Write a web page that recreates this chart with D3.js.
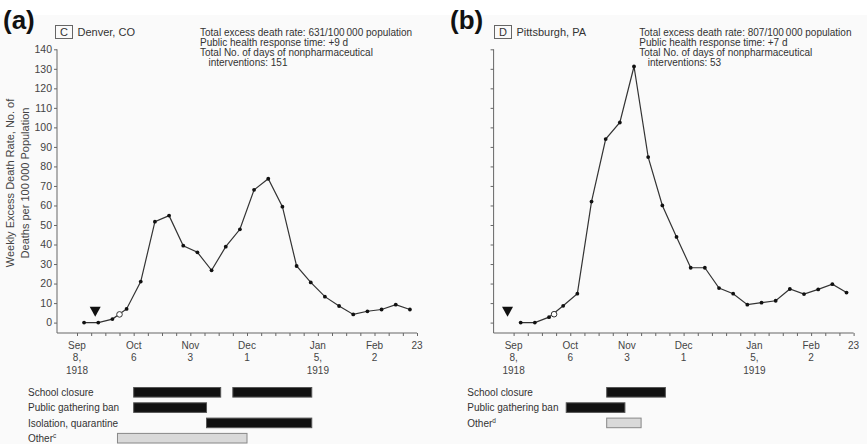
<!DOCTYPE html>
<html>
<head>
<meta charset="utf-8">
<script src="https://d3js.org/d3.v7.min.js"></script>
<style>
  body { margin: 0; background: #fff; }
  text { font-family: "Liberation Sans", Arial, Helvetica, sans-serif; }
</style>
</head>
<body>
<div id="chart"></div>
<script>
/**
 * Weekly excess death rate, Denver and Pittsburgh, 1918-1919
 */
var parseDate = d3.utcParse("%Y-%m-%d");

// first and last week of the axis
var firstWeek = "1918-09-08";
var lastWeek = "1919-02-23";

// weekly excess death rate per 100 000 (one value per week, Sep 8 - Feb 23)
var denverRate = [0, 0, 1.8, 7, 21, 51.7, 54.8, 39.4, 36, 26.8, 38.9, 47.8,
    68, 73.7, 59.4, 29, 20.6, 13.3, 8.5, 4.2, 5.8, 6.7, 9.2, 6.7];
var pittsburghRate = [0, 0, 2.8, 8.6, 14.8, 62, 94, 102.5, 131.2, 84.8, 60, 43.9,
    28.1, 28.1, 17.7, 14.8, 9.2, 10.2, 11.2, 17.2, 14.6, 17, 19.7, 15.4];

// open circle and triangle markers
var denverCircle = { date: "1918-09-29", value: 4.2 };
var pittsburghCircle = { date: "1918-09-28", value: 4.3 };
var denverTriangle = "1918-09-17";
var pittsburghTriangle = "1918-09-05";

// y ticks
var yTicks = [0, 10, 20, 30, 40, 50, 60, 70, 80, 90, 100, 110, 120, 130, 140];

// labelled x ticks
var xTickDates = ["1918-09-08", "1918-10-06", "1918-11-03", "1918-12-01", "1919-01-05", "1919-02-02", "1919-02-23"];
var xTickLabels = [["Sep", "8,", "1918"], ["Oct", "6"], ["Nov", "3"], ["Dec", "1"], ["Jan", "5,", "1919"], ["Feb", "2"], ["23"]];

// nonpharmaceutical interventions
var denverRows = ["School closure", "Public gathering ban", "Isolation, quarantine", "Other"];
var denverBars = [
    { row: 0, start: "1918-10-06", end: "1918-11-18" },
    { row: 0, start: "1918-11-24", end: "1919-01-02" },
    { row: 1, start: "1918-10-06", end: "1918-11-11" },
    { row: 2, start: "1918-11-11", end: "1919-01-02" },
    { row: 3, start: "1918-09-28", end: "1918-12-01", other: true }
];
var pittsburghRows = ["School closure", "Public gathering ban", "Other"];
var pittsburghBars = [
    { row: 0, start: "1918-10-24", end: "1918-11-22" },
    { row: 1, start: "1918-10-04", end: "1918-11-02" },
    { row: 2, start: "1918-10-24", end: "1918-11-10", other: true }
];

var width = 867, height = 444;

var svg = d3.select("#chart")
    .append("svg")
    .attr("width", width)
    .attr("height", height);

// faint scan background
svg.append("rect")
    .attr("x", 0).attr("y", 15)
    .attr("width", width).attr("height", height - 15)
    .attr("fill", "#fafafa");

// y label (only on the left panel)
var yLabel = svg.append("text")
    .attr("transform", "translate(0,183) rotate(-90)")
    .attr("text-anchor", "middle")
    .attr("font-size", "11px")
    .attr("fill", "#444");
yLabel.append("tspan").attr("x", 0).attr("y", 14).text("Weekly Excess Death Rate, No. of");
yLabel.append("tspan").attr("x", 0).attr("y", 29).text("Deaths per 100\u2009000 Population");

function drawPanel(p){
    var g = svg.append("g");
    var axisX = p.axisX;
    var baseY = 333;

    var x = d3.scaleUtc()
        .domain([parseDate(firstWeek), parseDate(lastWeek)])
        .range([axisX + 20, axisX + 360]);
    var y = d3.scaleLinear()
        .domain([0, 140])
        .range([322.6, 49.3]);

    // panel letter
    g.append("text")
        .attr("x", p.letterX).attr("y", 29)
        .attr("font-size", "26px")
        .attr("font-weight", "bold")
        .attr("fill", "#111")
        .text(p.letter);

    // boxed code and city
    g.append("rect")
        .attr("x", p.boxX + 0.5).attr("y", 25.5)
        .attr("width", 17).attr("height", 13)
        .attr("fill", "none")
        .attr("stroke", "#666");
    g.append("text")
        .attr("x", p.boxX + 9).attr("y", 36)
        .attr("text-anchor", "middle")
        .attr("font-size", "11px")
        .attr("fill", "#333")
        .text(p.code);
    g.append("text")
        .attr("x", p.boxX + 22.5).attr("y", 36)
        .attr("font-size", "11px")
        .attr("fill", "#333")
        .text(p.city);

    // summary text
    var info = g.append("text")
        .attr("font-size", "10px")
        .attr("fill", "#333");
    p.info.forEach(function(line, i){
        info.append("tspan")
            .attr("x", p.infoX + (i === 3 ? 8.5 : 0))
            .attr("y", 36.2 + i * 9.8)
            .text(line);
    });

    // y axis
    var yAxis = g.append("g")
        .attr("transform", "translate(" + axisX + ",0)")
        .call(d3.axisLeft(y).tickValues(yTicks).tickSize(3).tickPadding(2)
            .tickFormat(p.yLabels ? d3.format("d") : ""));
    yAxis.select(".domain").remove();
    yAxis.selectAll("line").attr("stroke", "#666");
    yAxis.selectAll("text")
        .attr("font-size", "10.5px")
        .attr("font-family", "Liberation Sans, Arial, sans-serif")
        .attr("fill", "#444");

    // x axis weekly ticks
    var xAxis = g.append("g")
        .attr("transform", "translate(0," + baseY + ")")
        .call(d3.axisBottom(x)
            .tickValues(d3.utcSunday.range(parseDate(firstWeek), d3.utcDay.offset(parseDate(lastWeek), 1)))
            .tickSize(3).tickFormat(""));
    xAxis.select(".domain").remove();
    xAxis.selectAll("line").attr("stroke", "#666");

    // axis lines
    g.append("path")
        .attr("d", "M" + axisX + "," + y(140) + "V" + baseY + "H" + x(parseDate(lastWeek)))
        .attr("fill", "none")
        .attr("stroke", "#666")
        .attr("stroke-width", 1);

    // multi-line date labels
    xTickDates.forEach(function(d, i){
        var t = g.append("text")
            .attr("text-anchor", "middle")
            .attr("font-size", "10px")
            .attr("fill", "#444");
        xTickLabels[i].forEach(function(s, j){
            t.append("tspan")
                .attr("x", x(parseDate(d)))
                .attr("y", 349 + j * 12.3)
                .text(s);
        });
    });

    // the series, one point in the middle of each week
    var weeks = d3.utcSunday.range(parseDate(firstWeek), parseDate(lastWeek));
    var half = (x(weeks[1]) - x(weeks[0])) / 2;
    var pts = p.rate.map(function(v, i){ return [x(weeks[i]) + half, y(v)]; });

    g.append("path")
        .attr("d", d3.line()(pts))
        .attr("fill", "none")
        .attr("stroke", "#333")
        .attr("stroke-width", 1.2);

    g.selectAll(".pt")
        .data(pts)
        .enter()
            .append("circle")
            .attr("cx", function(d){ return d[0]; })
            .attr("cy", function(d){ return d[1]; })
            .attr("r", 1.9)
            .attr("fill", "#111");

    // open circle
    g.append("circle")
        .attr("cx", x(parseDate(p.circle.date)))
        .attr("cy", y(p.circle.value))
        .attr("r", 2.8)
        .attr("fill", "#fff")
        .attr("stroke", "#333")
        .attr("stroke-width", 1);

    // triangle
    var tx = x(parseDate(p.triangle)), ty = y(3);
    g.append("path")
        .attr("d", "M" + tx + "," + ty + "L" + (tx - 5.5) + "," + (ty - 10) + "L" + (tx + 5.5) + "," + (ty - 10) + "Z")
        .attr("fill", "#111");

    // intervention rows
    var rowY = d3.scaleLinear().domain([0, 1]).range([392.3, 407.6]);
    p.rows.forEach(function(r, i){
        var t = g.append("text")
            .attr("x", p.rowLabelX)
            .attr("y", rowY(i) + 3.6)
            .attr("font-size", "10px")
            .attr("fill", "#333")
            .text(r);
        if(r === "Other"){
            t.append("tspan")
                .attr("font-size", "6.5px")
                .attr("dy", -4)
                .text(p.otherNote);
        }
    });

    g.selectAll(".bar")
        .data(p.bars)
        .enter()
            .append("rect")
            .attr("x", function(d){ return x(parseDate(d.start)); })
            .attr("y", function(d){ return rowY(d.row) - 4.8; })
            .attr("width", function(d){ return x(parseDate(d.end)) - x(parseDate(d.start)); })
            .attr("height", 9.6)
            .attr("fill", function(d){ return d.other ? "#d9d9d9" : "#111"; })
            .attr("stroke", function(d){ return d.other ? "#888" : "#555"; })
            .attr("stroke-width", 1);
}

drawPanel({
    letter: "(a)", letterX: 3, code: "C", city: "Denver, CO", boxX: 55,
    infoX: 200,
    info: ["Total excess death rate: 631/100\u2009000 population",
           "Public health response time: +9 d",
           "Total No. of days of nonpharmaceutical",
           "interventions: 151"],
    axisX: 57, yLabels: true,
    rate: denverRate, circle: denverCircle, triangle: denverTriangle,
    rows: denverRows, bars: denverBars, rowLabelX: 28, otherNote: "c"
});

drawPanel({
    letter: "(b)", letterX: 450, code: "D", city: "Pittsburgh, PA", boxX: 494,
    infoX: 639.3,
    info: ["Total excess death rate: 807/100\u2009000 population",
           "Public health response time: +7 d",
           "Total No. of days of nonpharmaceutical",
           "interventions: 53"],
    axisX: 493.6, yLabels: false,
    rate: pittsburghRate, circle: pittsburghCircle, triangle: pittsburghTriangle,
    rows: pittsburghRows, bars: pittsburghBars, rowLabelX: 467.3, otherNote: "d"
});
</script>
</body>
</html>
